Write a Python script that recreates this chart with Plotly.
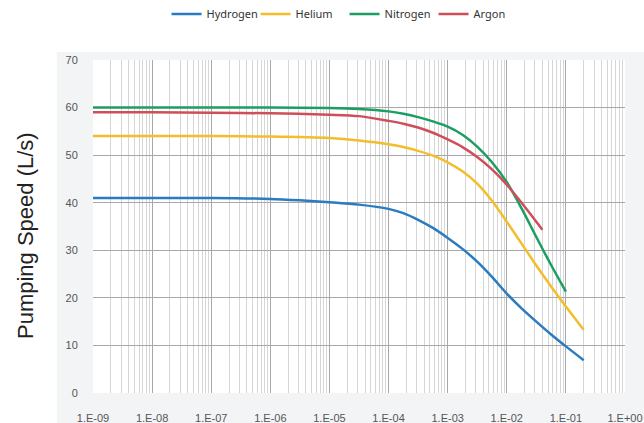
import plotly.graph_objects as go

# Pressure values (x) and pumping speeds (L/s)
h2_x = [1e-9, 1e-8, 1e-7, 1e-6, 3.16e-6, 1e-5, 3.16e-5, 1e-4, 1.78e-4, 3.16e-4, 5.62e-4, 1e-3, 1.78e-3,
        3.16e-3, 5.62e-3, 1e-2, 1.78e-2, 3.16e-2, 5.62e-2, 1e-1, 2e-1]
h2_y = [41.0, 41.0, 41.0, 40.8, 40.5, 40.1, 39.6, 38.7, 37.8, 36.4, 34.7, 32.6, 30.3,
        27.6, 24.4, 20.9, 17.8, 15.0, 12.3, 9.8, 6.9]

he_x = [1e-9, 1e-8, 1e-7, 1e-6, 1e-5, 3.16e-5, 1e-4, 1.78e-4, 3.16e-4, 5.62e-4, 1e-3, 1.78e-3,
        3.16e-3, 5.62e-3, 1e-2, 1.78e-2, 3.16e-2, 5.62e-2, 1e-1, 2e-1]
he_y = [54.0, 54.0, 54.0, 53.9, 53.6, 53.1, 52.3, 51.7, 50.9, 49.9, 48.5, 46.6,
        44.0, 40.4, 36.0, 31.4, 26.8, 22.4, 18.2, 13.3]

n2_x = [1e-9, 1e-8, 1e-7, 1e-6, 1e-5, 3.16e-5, 1e-4, 1.78e-4, 3.16e-4, 5.62e-4, 1e-3, 1.78e-3,
        3.16e-3, 5.62e-3, 1e-2, 1.78e-2, 3.16e-2, 5.62e-2, 1e-1]
n2_y = [60.0, 60.0, 60.0, 60.0, 59.9, 59.7, 59.2, 58.7, 58.0, 57.1, 56.0, 54.3,
        51.8, 48.5, 44.3, 38.8, 32.8, 26.9, 21.3]

ar_x = [1e-9, 1e-8, 1e-7, 1e-6, 1e-5, 3.16e-5, 1e-4, 1.78e-4, 3.16e-4, 5.62e-4, 1e-3, 1.78e-3,
        3.16e-3, 5.62e-3, 1e-2, 1.78e-2, 3.16e-2, 4e-2]
ar_y = [59.0, 59.0, 58.9, 58.8, 58.5, 58.2, 57.2, 56.6, 55.8, 54.7, 53.3, 51.7,
        49.6, 47.0, 43.8, 40.0, 36.0, 34.3]

x_tickvals = [1e-9, 1e-8, 1e-7, 1e-6, 1e-5, 1e-4, 1e-3, 1e-2, 1e-1, 1e0]
x_ticktext = ["1.E-09", "1.E-08", "1.E-07", "1.E-06", "1.E-05", "1.E-04", "1.E-03", "1.E-02", "1.E-01", "1.E+00"]
y_tickvals = [0, 10, 20, 30, 40, 50, 60, 70]

series = [
    ("Hydrogen", h2_x, h2_y, "#2a7bc0"),
    ("Helium", he_x, he_y, "#f3bd2b"),
    ("Nitrogen", n2_x, n2_y, "#1c9e62"),
    ("Argon", ar_x, ar_y, "#cf4f59"),
]

fig = go.Figure()
for name, xs, ys, col in series:
    fig.add_trace(go.Scatter(
        x=xs, y=ys, name=name, mode="lines",
        line=dict(color=col, width=2.5, shape="spline", smoothing=0.8),
    ))

tick_font = dict(family="Liberation Sans Narrow, Arial Narrow, sans-serif", size=11, color="#555555")

fig.update_layout(
    width=644, height=423,
    margin=dict(l=93, r=19, t=60, b=30, autoexpand=False),
    paper_bgcolor="#f3f4f5",
    plot_bgcolor="white",
    showlegend=True,
    legend=dict(
        orientation="h", x=0.535, xanchor="center", xref="container",
        y=1 - 14 / 423, yanchor="middle", yref="container",
        bgcolor="rgba(0,0,0,0)",
        font=dict(family="Noto Sans, sans-serif", size=11, color="#333333"),
        itemwidth=30, tracegroupgap=0, entrywidth=44, entrywidthmode="pixels",
    ),
    xaxis=dict(
        type="log", range=[-9, 0], automargin=False,
        tickmode="array", tickvals=x_tickvals, ticktext=x_ticktext,
        showgrid=True, gridcolor="#a8a8a8", gridwidth=1,
        minor=dict(dtick="D1", showgrid=True, gridcolor="#d6d6d6", gridwidth=1),
        zeroline=False, showline=False,
        ticks="outside", ticklen=15, tickcolor="rgba(0,0,0,0)", tickfont=tick_font,
    ),
    yaxis=dict(
        range=[0, 70], tickmode="array", tickvals=y_tickvals, automargin=False,
        showgrid=True, gridcolor="#a8a8a8", gridwidth=1,
        zeroline=False, showline=False,
        ticks="outside", ticklen=12, tickcolor="rgba(0,0,0,0)",
        tickfont=tick_font,
    ),
    shapes=[
        # white band above the grey panel
        dict(type="rect", xref="paper", yref="paper", layer="below",
             x0=-0.2, x1=1.1, y0=1.024, y1=1.25,
             fillcolor="white", line=dict(width=0)),
        # white strip left of the grey panel
        dict(type="rect", xref="paper", yref="paper", layer="below",
             x0=-0.2, x1=-0.068, y0=-0.12, y1=1.25,
             fillcolor="white", line=dict(width=0)),
    ],
    annotations=[dict(
        text="Pumping Speed (L/s)", textangle=-90,
        xref="paper", yref="paper", x=(26 - 93) / 532, y=0.4715,
        xanchor="center", yanchor="middle", showarrow=False,
        font=dict(family="Liberation Sans, Arial, sans-serif", size=22, color="#222222"),
    )],
)

fig.write_html(
    "out.html",
    config={"displayModeBar": False},
    post_script="document.body.style.margin='0';document.body.style.overflow='hidden';",
)
